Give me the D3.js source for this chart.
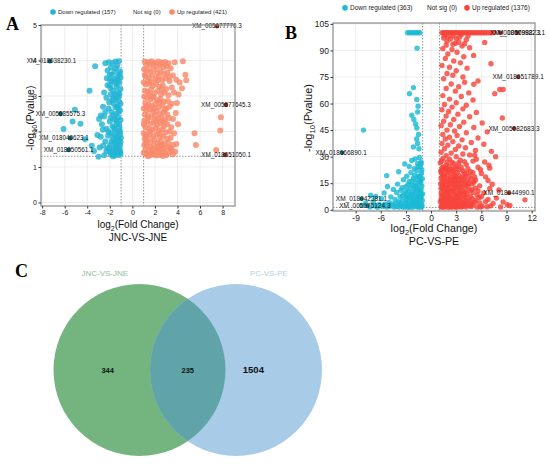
<!DOCTYPE html>
<html>
<head>
<meta charset="utf-8">
<script src="https://cdn.jsdelivr.net/npm/d3@7"></script>
<style>
  body { margin: 0; background: #fff; }
  text { font-family: Arial, "Liberation Sans", sans-serif; }
</style>
</head>
<body>
<svg id="fig" width="550" height="466"></svg>
<script>
// ---- panel A : JNC-VS-JNE  [log2FC, -log10 p] ----
var aDown = [
  [-2.4,3.92],[-2.1,3.95],[-1.75,3.93],[-1.5,3.97],[-1.2,3.98],[-1.9,3.8],[-2.2,3.72],[-1.35,3.85],[-1.6,3.68],[-1.1,3.7],
  [-1.3,3.55],[-1.55,3.48],[-1.8,3.42],[-1.15,3.38],[-2.0,3.3],[-1.4,3.25],[-1.7,3.15],[-1.25,3.1],[-1.05,3.2],[-1.9,3.05],
  [-2.3,2.95],[-1.5,2.9],[-1.2,2.85],[-1.65,2.78],[-1.35,2.7],[-2.1,2.65],[-1.1,2.6],[-1.85,2.55],[-1.45,2.5],[-2.5,2.42],
  [-1.25,2.4],[-1.6,2.35],[-1.05,2.32],[-2.0,2.28],[-1.4,2.22],[-1.75,2.15],[-1.15,2.12],[-2.3,2.08],[-1.55,2.05],[-1.3,1.98],
  [-1.9,1.95],[-1.08,1.92],[-2.15,1.88],[-1.45,1.85],[-1.7,1.8],[-1.2,1.76],[-2.4,1.72],[-1.6,1.7],[-1.35,1.65],[-1.95,1.62],
  [-1.1,1.6],[-1.5,1.56],[-2.2,1.52],[-1.8,1.5],[-1.25,1.47],[-1.65,1.44],[-2.0,1.42],[-1.4,1.39],[-1.05,1.37],[-1.9,1.35],
  [-2.5,1.33],[-1.55,1.32],[-1.2,1.34],[-1.75,1.4],[-2.3,1.45],[-1.15,1.5],[-1.45,1.62],[-1.85,1.72],[-1.3,1.82],[-1.05,1.7],
  [-1.6,1.9],[-1.1,2.02],[-1.7,2.45],[-1.2,2.55],[-1.5,2.68],[-1.05,2.78],[-1.8,2.88],[-1.4,3.0],[-1.15,3.05],[-1.6,3.38],
  [-1.3,3.45],[-1.05,3.52],[-2.7,2.2],[-2.6,1.6],[-2.8,1.85],[-2.4,2.55],[-2.2,3.3],[-2.0,3.6],
  [-3.3,3.84],[-3.8,3.15],[-5.1,2.61],[-5.3,2.28],[-6.1,2.07],[-4.6,2.22],[-4.2,1.78],[-3.6,1.6],[-3.0,1.29],
  [-2.9,1.55],[-3.1,1.9],[-2.8,2.45],[-2.6,2.7],[-2.5,3.1],[-3.4,1.45],[-2.95,2.35],
  [-1.12,3.62],[-1.48,3.78],[-1.83,3.6],[-2.27,3.5],[-1.37,3.33],[-1.93,3.22],[-1.22,2.98],[-1.68,2.95],[-2.05,2.82],
  [-1.28,2.68],[-1.92,2.38],[-1.42,2.3],[-1.18,2.2],[-1.63,2.1],[-2.12,2.0],[-1.02,1.82],[-1.52,1.75],[-2.05,1.55],
  [-1.33,1.52],[-1.72,1.3],[-1.08,1.45],[-2.62,2.05],[-1.98,3.45],[-1.58,3.05]
];
var aUp = [
  [1.1,3.97],[1.4,3.95],[1.7,3.98],[2.0,3.93],[2.3,3.97],[2.6,3.94],[2.9,3.96],[3.2,3.92],[3.75,3.95],[4.48,3.98],
  [1.25,3.88],[1.55,3.85],[1.85,3.9],[2.15,3.82],[2.45,3.87],[2.75,3.8],[3.05,3.84],[3.4,3.78],
  [1.05,3.75],[1.3,3.72],[1.6,3.68],[1.9,3.74],[2.2,3.65],[2.5,3.7],[2.8,3.62],[3.1,3.66],[3.6,3.58],[4.7,3.6],
  [1.15,3.55],[1.45,3.52],[1.75,3.58],[2.05,3.48],[2.35,3.55],[2.65,3.45],[2.95,3.5],[3.3,3.42],[3.9,3.46],[4.78,3.44],[4.19,3.38],
  [1.0,3.38],[1.2,3.32],[1.5,3.35],[1.8,3.28],[2.1,3.34],[2.4,3.25],[2.7,3.3],[3.0,3.2],[3.5,3.24],[4.4,3.22],
  [1.1,3.15],[1.35,3.12],[1.65,3.18],[1.95,3.08],[2.25,3.14],[2.55,3.05],[2.85,3.1],[3.2,3.02],[4.1,3.04],[3.7,3.1],
  [1.05,2.98],[1.3,2.95],[1.6,2.9],[1.9,2.96],[2.2,2.88],[2.5,2.92],[2.8,2.84],[3.15,2.86],[3.95,2.8],[3.5,2.78],
  [1.15,2.8],[1.45,2.75],[1.75,2.72],[2.05,2.78],[2.35,2.68],[2.65,2.74],[3.0,2.65],[3.3,2.7],[1.0,2.65],[1.25,2.6],
  [1.55,2.62],[1.85,2.55],[2.15,2.58],[2.45,2.5],[2.75,2.55],[3.1,2.48],[3.6,2.35],[3.85,2.52],[1.1,2.48],[1.4,2.45],
  [1.7,2.4],[2.0,2.44],[2.3,2.36],[2.6,2.4],[2.9,2.32],[3.25,2.38],[1.05,2.3],[1.3,2.28],[1.6,2.22],[1.9,2.26],
  [2.2,2.18],[2.5,2.24],[2.8,2.15],[3.1,2.2],[3.45,2.12],[1.15,2.12],[1.45,2.08],[1.75,2.05],[2.05,2.1],[2.35,2.02],
  [2.65,2.06],[2.95,1.98],[3.3,2.0],[3.7,1.95],[1.0,1.95],[1.25,1.92],[1.55,1.9],[1.85,1.86],[2.15,1.92],[2.45,1.84],
  [2.75,1.88],[3.05,1.8],[3.4,1.82],[1.1,1.78],[1.35,1.75],[1.65,1.72],[1.95,1.76],[2.25,1.68],[2.55,1.72],[2.85,1.65],
  [3.2,1.68],[3.6,1.62],[1.05,1.62],[1.3,1.6],[1.6,1.56],[1.9,1.6],[2.2,1.52],[2.5,1.58],[2.8,1.5],[3.1,1.54],
  [3.5,1.48],[1.15,1.48],[1.45,1.45],[1.75,1.42],[2.05,1.46],[2.35,1.4],[2.65,1.44],[2.95,1.38],[3.3,1.4],[3.8,1.43],
  [1.0,1.4],[1.25,1.36],[1.55,1.33],[1.85,1.35],[2.1,1.32],[2.4,1.34],[2.7,1.31],[3.0,1.33],[3.6,1.36],[1.2,1.68],
  [1.12,3.6],[1.38,3.42],[1.68,3.4],[2.28,3.44],[2.58,3.18],[1.48,3.05],[1.78,2.98],[2.4,2.82],[1.22,2.72],[1.95,2.65],
  [2.88,2.62],[1.35,2.38],[2.1,2.3],[2.7,2.28],[1.02,2.2],[1.6,2.0],[2.4,1.95],[1.15,1.85],[1.8,1.5],[2.6,1.62],
  [1.38,1.3],[2.28,1.58],[3.35,1.55],[3.9,1.65],[4.05,2.2],[3.25,3.55],
  [7.85,2.4],[7.79,2.03],[5.51,1.95],[5.63,1.62],[7.43,1.48]
];
var aLabels = [
  ["XM_005677776.3", 7.5, 4.97], ["XM_018038230.1", -7.3, 3.98], ["XM_005685575.3", -6.37, 2.5],
  ["XM_018040623.1", -5.5, 1.81], ["XM_018050561.1", -5.65, 1.48], ["XM_005677645.3", 8.29, 2.75],
  ["XM_018051050.1", 8.23, 1.34]
];
var aLegend = ["Down regulated (157)", "Not sig (0)", "Up regulated (421)"];
var aXTicks = [-8, -6, -4, -2, 0, 2, 4, 6, 8];
var aYTicks = [0, 1, 2, 3, 4, 5];

// ---- panel B : PC-VS-PE ----
var bDown = [
  [-2.8,100],[-2.55,100],[-2.3,100],[-2.05,100],[-1.8,100],[-1.55,100],[-1.35,100],
  [-1.67,91.3],[-2.1,69],[-2.58,65.6],[-1.71,62.3],[-1.55,58.5],[-1.6,55.2],[-2.3,53.4],[-2.05,51],[-1.85,48.5],
  [-1.7,46.2],[-8.06,45],[-1.5,42.5],[-1.72,40],[-1.6,37.5],[-2.1,35.5],[-1.45,34.5],
  [-1.4,29.5],[-1.9,28.7],[-2.3,27.8],[-1.2,27],[-1.6,26],[-3.14,25.9],[-2.6,24.5],[-1.3,24],[-2.0,23.2],[-1.7,22],
  [-3.86,21.5],[-2.4,21],[-1.15,20.5],[-5.3,19.3],[-2.9,19],[-1.5,18.8],[-2.1,17.8],[-3.3,17],[-1.3,16.5],[-2.6,16],
  [-1.8,15.2],[-4.0,14.5],[-5.2,13.1],[-2.3,14],[-1.1,13.5],[-3.0,13],[-1.6,12.5],[-4.5,11.5],[-2.0,11.8],[-3.6,11],
  [-2.7,10.5],[-1.3,10.2],[-5.6,9.5],[-4.1,9.8],[-1.9,9.5],[-3.2,9],[-2.4,8.6],[-7.2,8.2],[-6.6,7.5],[-1.5,8],
  [-4.8,7.2],[-3.7,7.5],[-2.9,7],[-2.1,6.5],[-1.2,6.8],[-5.9,6.2],[-4.3,5.8],[-3.4,5.5],[-1.7,5.5],[-2.6,5.2],
  [-6.9,4.5],[-5.0,4.2],[-3.9,4.5],[-3.0,4],[-2.2,4.2],[-1.4,4.3],[-7.8,3.8],[-6.2,3],[-5.5,3.2],[-4.6,3.1],
  [-3.6,2.8],[-2.8,3],[-1.9,3.2],[-1.1,3],[-8.3,2.5],[-6.7,2.2],[-5.8,1.9],[-4.9,2],[-4.1,1.8],[-3.3,2],
  [-2.5,2.2],[-1.6,2],[-1.2,1.6],[-7.3,1.5],[-6.4,1.4],[-5.3,1.5],[-4.4,1.5],[-3.8,1.6],[-2.9,1.5],[-2.2,1.4],[-1.5,1.4],
  [-1.2,11.5],[-1.8,13.2],[-2.5,12.2],[-1.4,14.8],[-1.05,17.5],[-2.2,9.8],[-1.6,7.2],[-2.8,8.2],[-1.0,9],[-3.4,8],
  [-1.35,5.8],[-2.0,3.6],[-2.4,2.6],[-1.8,1.8],[-3.1,3.3],[-1.25,2.4],[-2.7,1.7],[-1.55,3.8],[-1.9,7.8],[-2.3,6],
  [-1.15,8.5],[-1.45,10.8],[-1.75,11],[-2.05,13.5],[-1.25,15.5],[-1.65,17],[-1.95,19.5],[-1.1,22.5],[-2.25,16.2],
  [-2.75,14.2],[-3.45,12.5],[-1.05,5.2],[-1.5,6.2],[-1.85,4.6],[-2.45,3.8],[-2.95,5.8],[-3.7,4],[-4.3,3.4],
  [-1.1,1.9],[-1.7,2.8],[-2.15,2.2],[-2.6,1.4],[-3.3,1.4],[-4.9,2.6],[-5.6,2.6],[-1.3,7.6],[-2.45,7.4],[-3.0,10.2],
  [-1.35,19],[-1.55,24.5],[-1.2,26]
];
var bUp = [
  [1.3,100],[1.48,100],[1.7,100],[1.85,100],[2.05,100],[2.3,100],[2.45,100],[2.7,100],[2.9,100],[3.1,100],
  [3.3,100],[3.55,100],[3.75,100],[3.95,100],[4.2,100],[4.4,100],[4.6,100],[4.85,100],[5.05,100],[5.3,100],
  [5.5,100],[5.75,100],[5.95,100],[6.2,100],[6.4,100],[6.65,100],[6.9,100],[7.15,100],[7.4,100],
  [1.6,98.6],[2.0,97.8],[2.6,98.2],[3.0,96.8],[3.6,98.8],[4.4,98.2],[1.9,95.2],[2.6,93.5],[3.3,94.6],[4.0,93.8],
  [1.5,97],[2.3,96.5],[3.4,97.5],[4.2,96],[6.4,94.5],[1.8,93],[2.9,94],[3.7,92.5],[1.4,91],[2.5,90.5],
  [4.6,91.5],[3.1,89],[2.0,88],[5.07,87.2],[3.9,86.5],[1.7,85.5],[2.7,84],[3.5,83],[7.15,82.5],[1.3,81.5],
  [2.2,80.5],[4.3,80],[3.0,78.5],[1.9,77],[5.6,72.7],[5.1,70.9],[2.6,76],[3.8,75],[1.5,74],[4.0,72],
  [2.4,71],[3.3,69.5],[8.2,67.9],[8.6,67.9],[7.6,65.6],[1.8,68.5],[2.9,67],[4.5,66],[1.4,64.5],[3.6,64],
  [2.2,62.5],[5.0,62],[3.0,60.5],[1.6,59.5],[4.2,59],[2.5,58],
  [3.8,57],[1.3,56.5],[2.1,55.5],[5.4,55],[3.2,54],[1.8,53],[4.6,52.5],[8.5,51.8],[2.7,51],[1.5,50],
  [3.9,49.5],[6.1,49],[2.3,48],[1.2,47.5],[3.4,47],[5.1,46.5],[1.9,45],[2.8,44.5],[6.7,44],[4.2,43.5],
  [1.4,42.5],[3.1,42],[2.2,41],[5.6,40.5],[1.7,40],[3.7,39.5],[2.6,38.5],[4.8,38],[1.3,37.5],[6.3,37],
  [2.0,36.5],[3.3,36],[4.1,35],[1.6,34.5],[2.9,34],[5.3,33.5],[7.2,33],[1.2,32.5],[2.4,32],[3.8,31.5],
  [4.6,31],[7.7,30],[1.8,30.5],[3.0,30],
  [1.4,29],[2.2,28.5],[3.5,28],[5.0,27.5],[6.4,27],[1.1,26.5],[2.7,26],[4.2,25.5],[1.8,25],[3.1,24.5],
  [5.6,24],[7.0,23.5],[2.4,23],[1.3,22.5],[3.8,22],[4.7,21.5],[2.0,21],[6.0,20.5],[1.6,20],[3.3,19.5],
  [2.8,19],[5.2,18.5],[1.2,18],[4.0,17.5],[2.3,17],[6.8,16.5],[1.7,16],[3.6,15.5],[4.5,15],[2.6,14.5],
  [1.4,14],[5.8,13.5],[3.0,13],[2.0,12.5],[7.0,12],[8.1,11.2],[1.2,12],[4.1,11.5],[2.5,11],[3.4,10.5],
  [1.8,10],[5.0,9.8],[6.3,9.5],[2.9,9],[1.3,8.5],[3.9,8.2],[2.2,8],[4.7,7.5],[1.6,7],[5.7,6.8],
  [3.2,6.5],[2.6,6],[6.8,5.8],[11.2,5.6],[1.2,5.5],[4.3,5.2],[2.0,5],[3.6,4.6],[5.2,4.3],[1.5,4],
  [2.8,3.8],[7.4,3.5],[4.0,3.2],[9.1,2.8],[9.4,2.4],[1.3,2.5],[3.3,2.2],[2.3,2],[6.1,2],[4.8,1.8],
  [1.8,1.6],[5.5,1.5],[3.0,1.4],[8.3,1.6],[2.1,1.4],
  [1.25,27.5],[1.9,27],[2.5,26.8],[3.3,26.4],[4.0,27.2],[1.5,24.2],[2.2,24.6],[2.9,23.6],[3.6,24],[4.4,23.2],
  [1.15,21.8],[1.8,22.4],[2.5,21.6],[3.1,21.2],[4.2,20.4],[5.0,21],[1.4,19.2],[2.1,19.6],[2.7,20.2],[3.7,18.6],
  [4.6,19],[1.9,17.6],[2.9,17.2],[3.3,16.8],[4.3,16.4],[5.3,16.8],[1.3,15.6],[2.1,15.2],[2.8,16],[3.9,14.4],
  [4.9,14.6],[1.6,13.2],[2.4,13.6],[3.5,12.8],[4.4,13.2],[5.3,12.2],[1.4,11.4],[2.0,10.6],[2.8,12.2],[3.8,10.2],
  [4.6,10.8],[1.2,9.4],[1.9,8.6],[2.5,9.6],[3.5,9.2],[4.3,8.8],[5.5,8.4],[1.5,6.4],[2.3,7.2],[3.0,7.8],
  [3.9,6.6],[4.9,6.2],[1.1,4.6],[1.7,5.4],[2.4,4.4],[3.0,5.2],[3.8,4],[4.6,4.8],[5.8,3.8],[1.4,3.2],
  [2.0,2.8],[2.6,3.4],[3.5,3],[4.4,2.6],[5.0,2.9],[1.2,1.8],[1.6,2.2],[2.7,2.4],[3.8,1.9],[4.2,1.5],
  [6.7,1.7],[2.9,1.7],[1.3,1.4],[2.4,1.5],[3.6,1.5],[5.9,1.6],[7.1,2.2],[6.5,4.6],[6.0,7.4],[7.8,6.6],
  [8.6,4.4],[7.3,14.4],[6.5,18.6],[5.9,22.6],[5.4,28.5],[6.9,25.2],[5.2,30.8],
  [1.35,23.8],[1.75,23.2],[2.05,22.8],[2.65,22.2],[3.35,22.8],[3.95,21],[1.25,20.6],[1.55,18.6],[2.35,18.2],[2.95,18.8],
  [3.45,17.6],[4.05,19.2],[1.45,17.2],[1.95,16.4],[2.55,16.8],[3.15,15.2],[3.75,16.2],[4.75,17.4],[1.15,14.6],[1.85,14.2],
  [2.3,14.8],[2.9,14.4],[3.3,13.8],[4.2,14.2],[1.35,12.8],[1.95,12.2],[2.25,10.8],[3.15,11.6],[3.7,12.8],[4.85,11.4],
  [1.65,10.4],[2.7,10.2],[3.25,8.8],[4.0,9.6],[1.45,8.2],[2.05,7.6],[2.75,7.0],[3.45,7.2],[4.15,6.8],[1.25,7.0],
  [1.85,6.2],[2.45,5.6],[3.35,5.8],[4.05,4.6],[1.35,5.0],[1.95,4.0],[2.75,4.8],[3.15,3.6],[4.75,3.4],[1.65,3.6],
  [2.25,3.2],[3.0,2.7],[3.95,2.4],[1.5,1.5],[2.55,1.6],[3.3,1.7],[4.6,2.2],[5.3,5.4],[5.6,10.6],[5.1,15.6]
];
var bLabels = [
  ["XM_018079982.1", 8.3, 100], ["XM_005698223.1", 10.3, 100], ["XM_018651789.1", 10.4, 75],
  ["XM_005682683.3", 9.9, 46], ["XM_018666890.1", -10.6, 32.2], ["XM_018042381.1", -8.3, 6.2],
  ["XM_005675124.3", -7.6, 2.2], ["XM_018044990.1", 9.3, 9.4]
];
var bLegend = ["Down regulated (363)", "Not sig (0)", "Up regulated (1376)"];
var bXTicks = [-9, -6, -3, 0, 3, 6, 9, 12];
var bYTicks = [0, 15, 30, 45, 60, 75, 90, 105];

// ---- panel C : Venn ----
var vennSets = ["JNC-VS-JNE", "PC-VS-PE"];
var vennCounts = [344, 235, 1504];

var fcCut = 1;
var pCut = -Math.log10(0.05);
var serif = "'Liberation Serif', 'Times New Roman', serif";

var svg = d3.select("#fig");

function drawVolcano(cfg) {
  var x = d3.scaleLinear().domain(cfg.xDomain).range([cfg.left, cfg.right]);
  var y = d3.scaleLinear().domain(cfg.yDomain).range([cfg.bottom, cfg.top]);
  var g = svg.append("g");

  // grid
  g.selectAll(".gx").data(cfg.xTicks).enter().append("line")
    .attr("x1", function (d) { return x(d); })
    .attr("x2", function (d) { return x(d); })
    .attr("y1", cfg.top).attr("y2", cfg.bottom)
    .attr("stroke", "#e6e6e6").attr("stroke-width", 0.7);
  g.selectAll(".gy").data(cfg.yTicks).enter().append("line")
    .attr("y1", function (d) { return y(d); })
    .attr("y2", function (d) { return y(d); })
    .attr("x1", cfg.left).attr("x2", cfg.right)
    .attr("stroke", "#e6e6e6").attr("stroke-width", 0.7);

  // cut-off lines
  [-fcCut, fcCut].forEach(function (v) {
    g.append("line")
      .attr("x1", x(v)).attr("x2", x(v))
      .attr("y1", cfg.top).attr("y2", cfg.bottom)
      .attr("stroke", "#666").attr("stroke-width", 0.7)
      .attr("stroke-dasharray", "1.5,1.5");
  });
  g.append("line")
    .attr("x1", cfg.left).attr("x2", cfg.right)
    .attr("y1", y(pCut)).attr("y2", y(pCut))
    .attr("stroke", "#666").attr("stroke-width", 0.7)
    .attr("stroke-dasharray", "1.5,1.5");

  // points
  g.selectAll(".dn").data(cfg.down).enter().append("circle")
    .attr("cx", function (d) { return x(d[0]); })
    .attr("cy", function (d) { return y(d[1]); })
    .attr("r", cfg.r).attr("fill", cfg.downColor).attr("fill-opacity", 0.82);
  g.selectAll(".up").data(cfg.up).enter().append("circle")
    .attr("cx", function (d) { return x(d[0]); })
    .attr("cy", function (d) { return y(d[1]); })
    .attr("r", cfg.r).attr("fill", cfg.upColor).attr("fill-opacity", 0.82);

  // labelled genes
  g.selectAll(".lp").data(cfg.labels).enter().append("circle")
    .attr("cx", function (d) { return x(d[1]); })
    .attr("cy", function (d) { return y(d[2]); })
    .attr("r", cfg.r * 0.8)
    .attr("fill", function (d) { return d[1] < 0 ? "#0d6f85" : "#a8301e"; });
  g.selectAll(".lt").data(cfg.labels).enter().append("text")
    .attr("x", function (d, i) { return x(d[1]) + cfg.labelDx[i]; })
    .attr("y", function (d) { return y(d[2]) + cfg.labelFont * 0.36; })
    .attr("text-anchor", "middle")
    .attr("font-size", cfg.labelFont + "px")
    .attr("fill", "#111")
    .text(function (d) { return d[0]; });

  // frame
  g.append("rect")
    .attr("x", cfg.left).attr("y", cfg.top)
    .attr("width", cfg.right - cfg.left).attr("height", cfg.bottom - cfg.top)
    .attr("fill", "none").attr("stroke", "#8a8a8a").attr("stroke-width", 1.2);

  // axes
  var ax = g.append("g").attr("transform", "translate(0," + cfg.bottom + ")")
    .call(d3.axisBottom(x).tickValues(cfg.xTicks).tickSize(2.5).tickPadding(1.5)
      .tickFormat(function (d) { return String(d); }));
  var ay = g.append("g").attr("transform", "translate(" + cfg.left + ",0)")
    .call(d3.axisLeft(y).tickValues(cfg.yTicks).tickSize(2.5).tickPadding(1.5)
      .tickFormat(function (d) { return String(d); }));
  [ax, ay].forEach(function (a) {
    a.select(".domain").remove();
    a.selectAll("line").attr("stroke", "#333");
    a.selectAll("text").attr("font-size", cfg.tickFont + "px").attr("fill", "#222");
  });

  // axis titles
  var cx = (cfg.left + cfg.right) / 2;
  var xt = g.append("text").attr("x", cx).attr("y", cfg.xTitleY)
    .attr("text-anchor", "middle").attr("font-size", cfg.titleFont + "px").attr("fill", "#111");
  xt.append("tspan").text("log");
  xt.append("tspan").text("2").attr("font-size", (cfg.titleFont * 0.7) + "px").attr("dy", 2.5);
  xt.append("tspan").text("(Fold Change)").attr("dy", -2.5);
  g.append("text").attr("x", cx).attr("y", cfg.xTitleY + 12.5)
    .attr("text-anchor", "middle").attr("font-size", cfg.titleFont + "px").attr("fill", "#111")
    .text(cfg.name);

  var yt = g.append("text")
    .attr("transform", "translate(" + cfg.yTitleX + "," + cfg.yTitleMid + ") rotate(-90)")
    .attr("text-anchor", "middle").attr("font-size", cfg.yTitleFont + "px").attr("fill", "#111");
  yt.append("tspan").text("-log");
  yt.append("tspan").text("10").attr("font-size", (cfg.yTitleFont * 0.7) + "px").attr("dy", 2.5);
  yt.append("tspan").text("(Pvalue)").attr("dy", -2.5);

  // legend
  var lg = g.append("g").attr("font-size", cfg.legendFont + "px").attr("fill", "#222");
  var colors = [cfg.downColor, null, cfg.upColor];
  cfg.legend.forEach(function (t, i) {
    var lx = cfg.legendX[i];
    if (colors[i]) {
      lg.append("circle").attr("cx", lx - 5).attr("cy", cfg.legendY - cfg.legendFont * 0.33)
        .attr("r", 2.8).attr("fill", colors[i]);
    }
    lg.append("text").attr("x", lx).attr("y", cfg.legendY).text(t);
  });

  // panel letter
  svg.append("text").attr("x", cfg.letterX).attr("y", cfg.letterY)
    .style("font-family", serif)
    .attr("font-weight", "bold").attr("font-size", "18px").attr("fill", "#000")
    .text(cfg.letter);
}

drawVolcano({
  letter: "A", letterX: 6, letterY: 30,
  name: "JNC-VS-JNE",
  down: aDown, up: aUp, labels: aLabels, labelDx: [0, 1.5, 0, -6.5, 0, 0, 1],
  downColor: "#22b5d4", upColor: "#f9896a",
  xDomain: [-8.1, 9.1], yDomain: [-0.1, 5],
  left: 41, right: 235, top: 25, bottom: 206,
  xTicks: aXTicks, yTicks: aYTicks,
  r: 3, tickFont: 7, labelFont: 6.3, legendFont: 6,
  titleFont: 10, yTitleFont: 10.5, xTitleY: 228, yTitleX: 34, yTitleMid: 118,
  legend: aLegend, legendX: [58, 133, 177], legendY: 14
});

drawVolcano({
  letter: "B", letterX: 285, letterY: 39,
  name: "PC-VS-PE",
  down: bDown, up: bUp, labels: bLabels, labelDx: [15, 2, 0, 0, -1, 0, -2.5, 0],
  downColor: "#1bbad6", upColor: "#f8443a",
  xDomain: [-11.7, 12.4], yDomain: [-0.7, 105.5],
  left: 333, right: 535, top: 23, bottom: 211,
  xTicks: bXTicks, yTicks: bYTicks,
  r: 2.7, tickFont: 8.5, labelFont: 6.5, legendFont: 6.5,
  titleFont: 10.7, yTitleFont: 11, xTitleY: 232, yTitleX: 312, yTitleMid: 118,
  legend: bLegend, legendX: [350, 427, 472], legendY: 10
});

// ---- Venn ----
var vx = d3.scaleLinear().domain([0, 1]).range([139.5, 236]);
var vy = d3.scaleLinear().domain([0, 1]).range([370, 284]);
var vr = vy(0) - vy(1);
var vg = svg.append("g");
vg.append("defs").append("clipPath").attr("id", "clipA")
  .append("circle").attr("cx", vx(0)).attr("cy", vy(0)).attr("r", vr);
vg.append("circle").attr("cx", vx(0)).attr("cy", vy(0)).attr("r", vr).attr("fill", "#74b47f");
vg.append("circle").attr("cx", vx(1)).attr("cy", vy(0)).attr("r", vr).attr("fill", "#a8cbe7");
vg.append("circle").attr("cx", vx(1)).attr("cy", vy(0)).attr("r", vr).attr("fill", "#60a4a9")
  .attr("clip-path", "url(#clipA)");

var setColors = ["#8fc096", "#b3cfe7"];
var setLabelX = [vx(-0.36), vx(1.34)];
vennSets.forEach(function (s, i) {
  vg.append("text").attr("x", setLabelX[i]).attr("y", 276)
    .attr("text-anchor", "middle").attr("font-size", "8px").attr("fill", setColors[i]).text(s);
});
var countX = [vx(-0.33), vx(0.5), vx(1.18)];
var countSize = [7.5, 7.5, 9.5];
vennCounts.forEach(function (c, i) {
  vg.append("text").attr("x", countX[i]).attr("y", vy(0) + countSize[i] * 0.36)
    .attr("text-anchor", "middle").attr("font-weight", "bold")
    .attr("font-size", countSize[i] + "px").attr("fill", "#111").text(c);
});
svg.append("text").attr("x", 15).attr("y", 277)
  .style("font-family", serif)
  .attr("font-weight", "bold").attr("font-size", "18px").attr("fill", "#000").text("C");
</script>
</body>
</html>
